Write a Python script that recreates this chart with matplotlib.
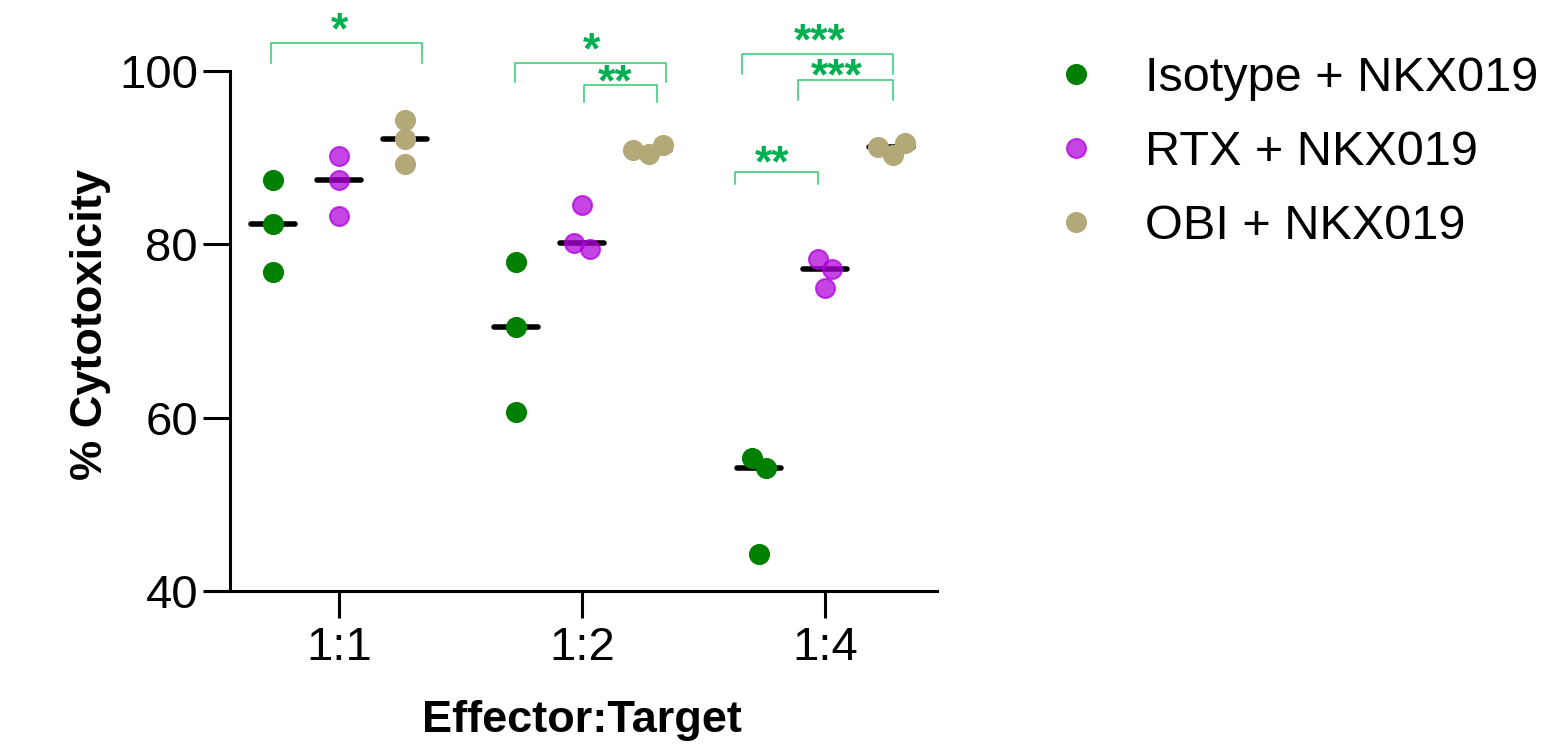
import numpy as np
import matplotlib.pyplot as plt
from matplotlib.lines import Line2D

plt.rcParams['font.family'] = ['Liberation Sans', 'DejaVu Sans']

# data
ratios = ["1:1", "1:2", "1:4"]
groupNames = ["Isotype + NKX019", "RTX + NKX019", "OBI + NKX019"]
isotype = [[87.4, 82.3, 76.8], [78.0, 70.5, 60.7], [55.4, 54.2, 44.3]]
rtx = [[90.2, 87.4, 83.3], [84.5, 79.5, 80.2], [78.3, 77.1, 75.0]]
obi = [[94.4, 92.2, 89.3], [90.4, 91.5, 90.9], [90.3, 91.7, 91.2]]

# significance brackets: x1, x2, top, leg bottom, label, label x, gap (px)
brackets = [
    (-0.281, 0.343, 103.28, 100.91, "*", 0.0, 10),
    (0.723, 1.346, 100.98, 98.68, "*", 1.037, 10),
    (1.009, 1.307, 98.37, 96.37, "**", 1.136, 1),
    (1.658, 2.280, 101.98, 99.68, "***", 1.979, 10),
    (1.889, 2.280, 98.99, 96.68, "***", 2.049, 1),
    (1.630, 1.971, 88.39, 87.00, "**", 1.782, 6),
]

styles = [
    dict(mfc='#008000', mec='#008000', alpha=1.0),
    dict(mfc='#af00db', mec='#af00db', alpha=0.73),
    dict(mfc='#b3a877', mec='#b3a877', alpha=1.0),
]
groupOffsets = [-0.272, 0.0, 0.272]
markerSize = 13.7

fig = plt.figure(figsize=(15.41, 7.48), dpi=100)
ax = fig.add_axes([205 / 1541, 1 - 591 / 748, 732 / 1541, 520 / 748])
ax.set_xlim(-0.5514, 2.461)
ax.set_ylim(40, 100)


def swarm(xc, vals, thr=17.0):
    # simple beeswarm in pixel space so overlapping dots spread sideways
    vals = np.asarray(vals, dtype=float)
    pts = ax.transData.transform(np.column_stack([np.full(len(vals), xc), vals]))
    ys = pts[:, 1]
    dx = np.zeros(len(vals))
    placed = []
    for i in np.argsort(vals):
        cands = [0.0]
        for j in placed:
            dy = ys[i] - ys[j]
            if abs(dy) < thr:
                w = np.sqrt(thr ** 2 - dy ** 2)
                cands += [dx[j] - w, dx[j] + w]
        cands.sort(key=lambda c: (abs(c), c))
        for c in cands:
            if all(np.hypot(c - dx[j], ys[i] - ys[j]) >= thr - 1e-6 for j in placed):
                dx[i] = c
                break
        placed.append(i)
    # centre each cluster of touching dots
    n = len(vals)
    comp = list(range(n))
    for i in range(n):
        for j in range(n):
            if abs(ys[i] - ys[j]) < thr:
                a, b = comp[i], comp[j]
                comp = [a if c == b else c for c in comp]
    for c in set(comp):
        idx = [k for k in range(n) if comp[k] == c]
        dx[idx] -= (dx[idx].max() + dx[idx].min()) / 2
    pxPerUnit = ax.transData.transform((1, 0))[0] - ax.transData.transform((0, 0))[0]
    return xc + dx / pxPerUnit


for g, series in enumerate([isotype, rtx, obi]):
    for r, vals in enumerate(series):
        xc = r + groupOffsets[g]
        med = np.median(vals)
        ax.plot([xc - 0.09, xc + 0.09], [med, med], color='black', lw=4,
                solid_capstyle='round', zorder=2)
        ax.plot(swarm(xc, vals), vals, ls='none', marker='o', ms=markerSize,
                mew=1.5, zorder=3, **styles[g])

for x1, x2, top, leg, label, lx, gap in brackets:
    ax.plot([x1, x1, x2, x2], [leg, top, top, leg], color='#2ecc71', lw=1.1,
            clip_on=False, zorder=4)
    ax.annotate(label, xy=(lx, top), xytext=(0, (gap - 11) / 1.389),
                textcoords='offset points', ha='center', va='baseline',
                fontsize=32, fontweight='bold', color='#00b050',
                annotation_clip=False)

ax.spines['top'].set_visible(False)
ax.spines['right'].set_visible(False)
ax.spines['left'].set_position(('data', -0.4486))
for s in ['left', 'bottom']:
    ax.spines[s].set_linewidth(2.2)

ax.set_xticks(range(len(ratios)))
ax.set_xticklabels(ratios)
ax.set_yticks([40, 60, 80, 100])
ax.tick_params(axis='both', direction='out', length=19.5, width=2.2,
               labelsize=34, colors='black')
ax.tick_params(axis='y', pad=3.5)
ax.tick_params(axis='x', pad=5.5)

ax.set_ylabel("% Cytotoxicity", fontsize=32.5, fontweight='bold')
ax.yaxis.set_label_coords(-0.128, 0.513)
ax.set_xlabel("Effector:Target", fontsize=32.5, fontweight='bold')
ax.xaxis.set_label_coords(0.515, -0.21)

handles = [Line2D([], [], ls='none', marker='o', ms=markerSize, mew=1.5, **st)
           for st in styles]
ax.legend(handles, groupNames, loc='upper left', bbox_to_anchor=(1057 / 1541, 1 - 56 / 748),
          bbox_transform=fig.transFigure, frameon=False, fontsize=35,
          handlelength=0.8, handletextpad=1.02, labelspacing=0.6, borderpad=0,
          borderaxespad=0)

fig.savefig("out.png", dpi=100)
